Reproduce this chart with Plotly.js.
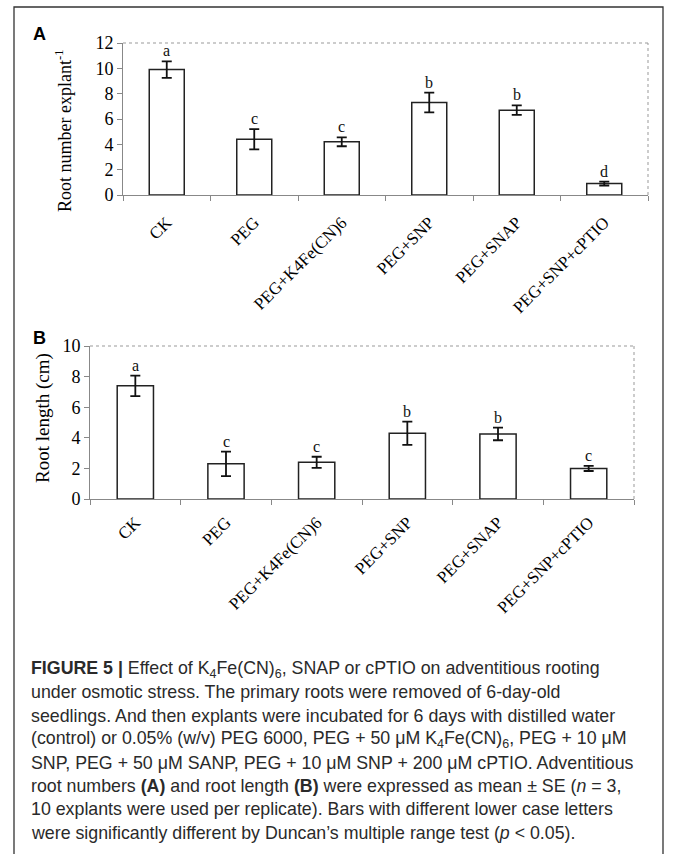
<!DOCTYPE html>
<html>
<head>
<meta charset="utf-8">
<script src="https://cdn.plot.ly/plotly-3.0.1.min.js"></script>
<style>html,body{margin:0;padding:0;background:#fff;}#chart{width:673px;height:854px;}</style>
</head>
<body>
<div id="chart"></div>
<script>
// ---- data ----
const categories = ["CK", "PEG", "PEG+K4Fe(CN)6", "PEG+SNP", "PEG+SNAP", "PEG+SNP+cPTIO"];
const rootNumber = [9.9, 4.4, 4.2, 7.3, 6.7, 0.9];
const rootNumberSE = [0.65, 0.8, 0.35, 0.78, 0.37, 0.15];
const rootNumberLetters = ["a", "c", "c", "b", "b", "d"];
const rootLength = [7.4, 2.3, 2.4, 4.3, 4.25, 2.0];
const rootLengthSE = [0.67, 0.8, 0.36, 0.76, 0.41, 0.17];
const rootLengthLetters = ["a", "c", "c", "b", "b", "c"];
const yTicksA = [0, 2, 4, 6, 8, 10, 12];
const yTicksB = [0, 2, 4, 6, 8, 10];
const yTitleA = "Root number explant<sup>-1</sup>";
const yTitleB = "Root length (cm)";
const captionLines = [
  "<b>FIGURE 5 |</b> Effect of K<sub>4</sub>Fe(CN)<sub>6</sub>, SNAP or cPTIO on adventitious rooting",
  "under osmotic stress. The primary roots were removed of 6-day-old",
  "seedlings. And then explants were incubated for 6 days with distilled water",
  "(control) or 0.05% (w/v) PEG 6000, PEG + 50 μM K<sub>4</sub>Fe(CN)<sub>6</sub>, PEG + 10 μM",
  "SNP, PEG + 50 μM SANP, PEG + 10 μM SNP + 200 μM cPTIO. Adventitious",
  "root numbers <b>(A)</b> and root length <b>(B)</b> were expressed as mean ± SE (<i>n</i> = 3,",
  "10 explants were used per replicate). Bars with different lower case letters",
  "were significantly different by Duncan’s multiple range test (<i>p</i> &lt; 0.05)."
];

// ---- layout helpers ----
const W = 673, H = 854;
const px = p => p / W;
const py = p => 1 - p / H;
const serif = "Liberation Serif, Times New Roman, serif";
const sans = "Liberation Sans, Arial, sans-serif";
const capFont = "Liberation Sans, Arial, sans-serif";

function barTrace(vals, se, xa, ya) {
  return {
    type: "bar", x: categories, y: vals, xaxis: xa, yaxis: ya, width: 0.4,
    marker: {color: "#ffffff", line: {color: "#222", width: 1.5}},
    error_y: {type: "data", array: se, visible: true, color: "#111", thickness: 1.8, width: 5},
    hoverinfo: "skip"
  };
}

const data = [
  barTrace(rootNumber, rootNumberSE, "x", "y"),
  barTrace(rootLength, rootLengthSE, "x2", "y2")
];

const annotations = [];
categories.forEach((c, i) => {
  annotations.push({xref: "x", yref: "y", x: c, y: rootNumber[i] + rootNumberSE[i], text: rootNumberLetters[i],
    showarrow: false, yanchor: "bottom", yshift: 0, font: {family: serif, size: 16, color: "#111"}});
  annotations.push({xref: "x2", yref: "y2", x: c, y: rootLength[i] + rootLengthSE[i], text: rootLengthLetters[i],
    showarrow: false, yanchor: "bottom", yshift: 0, font: {family: serif, size: 16, color: "#111"}});
});
annotations.push({xref: "paper", yref: "paper", x: px(31), y: py(34), xanchor: "left", yanchor: "middle",
  text: "<b>A</b>", showarrow: false, font: {family: sans, size: 18, color: "#000"}});
annotations.push({xref: "paper", yref: "paper", x: px(31), y: py(338), xanchor: "left", yanchor: "middle",
  text: "<b>B</b>", showarrow: false, font: {family: sans, size: 18, color: "#000"}});
annotations.push({xref: "paper", yref: "paper", x: px(63), y: py(131), xanchor: "center", yanchor: "middle",
  textangle: -90, text: yTitleA, showarrow: false, font: {family: serif, size: 18, color: "#000"}});
annotations.push({xref: "paper", yref: "paper", x: px(43), y: py(418), xanchor: "center", yanchor: "middle",
  textangle: -90, text: yTitleB, showarrow: false, font: {family: serif, size: 19, color: "#000"}});
captionLines.forEach((t, i) => {
  annotations.push({xref: "paper", yref: "paper", x: px(29), y: py(669 + i * 23.4), xanchor: "left", yanchor: "middle",
    text: t, showarrow: false, font: {family: capFont, size: 17.8, color: "#2a2a2a"}});
});

const axisLine = "#888";
function xAxis(domain, anchor, standoff) {
  return {domain: domain, anchor: anchor, type: "category", range: [-0.5, 5.5], tickson: "boundaries",
    ticks: "outside", ticklen: 5, tickcolor: axisLine, showline: true, linecolor: axisLine, linewidth: 1,
    tickangle: -45, ticklabelstandoff: standoff, tickfont: {family: serif, size: 17, color: "#000"},
    showgrid: false, zeroline: false, fixedrange: true};
}
function yAxis(domain, anchor, rng, ticks) {
  return {domain: domain, anchor: anchor, range: rng, tickvals: ticks, ticks: "outside", ticklen: 5, tickcolor: axisLine,
    showline: true, linecolor: axisLine, linewidth: 1, showgrid: false, zeroline: false,
    tickfont: {family: serif, size: 18, color: "#000"}, fixedrange: true};
}

const layout = {
  width: W, height: H, margin: {l: 0, r: 0, t: 0, b: 0}, paper_bgcolor: "#fff", plot_bgcolor: "#fff",
  showlegend: false,
  xaxis: xAxis([px(123), px(648)], "y", 10),
  yaxis: yAxis([1 - 195 / H, 1 - 43 / H], "x", [0, 12], yTicksA),
  xaxis2: xAxis([px(90), px(634)], "y2", 6),
  yaxis2: yAxis([1 - 499 / H, 1 - 346 / H], "x2", [0, 10], yTicksB),
  annotations: annotations,
  shapes: [
    {type: "rect", xref: "paper", yref: "paper", x0: px(14), x1: px(663), y0: -0.02, y1: py(7),
      line: {color: "#333", width: 1.3}, fillcolor: "rgba(0,0,0,0)"},
    {type: "line", xref: "x domain", yref: "y domain", x0: 0, x1: 1, y0: 1, y1: 1, line: {color: "#999", width: 1, dash: "dot"}},
    {type: "line", xref: "x domain", yref: "y domain", x0: 1, x1: 1, y0: 0, y1: 1, line: {color: "#999", width: 1, dash: "dot"}},
    {type: "line", xref: "x2 domain", yref: "y2 domain", x0: 0, x1: 1, y0: 1, y1: 1, line: {color: "#999", width: 1, dash: "dot"}},
    {type: "line", xref: "x2 domain", yref: "y2 domain", x0: 1, x1: 1, y0: 0, y1: 1, line: {color: "#999", width: 1, dash: "dot"}}
  ]
};

Plotly.newPlot("chart", data, layout, {staticPlot: true, displayModeBar: false});
</script>
</body>
</html>
